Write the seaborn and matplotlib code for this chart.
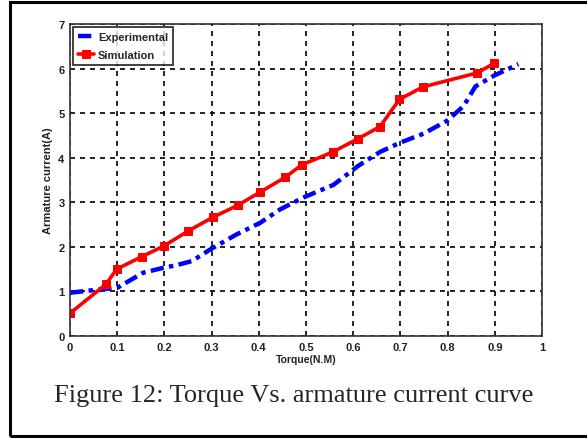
import matplotlib
matplotlib.use("Agg")
import matplotlib.pyplot as plt
import seaborn as sns
import pandas as pd
from matplotlib.patches import Rectangle

# Data
exp_torque = [0.0, 0.05, 0.10, 0.155, 0.198, 0.226, 0.258, 0.30, 0.353, 0.403, 0.445,
              0.495, 0.558, 0.611, 0.657, 0.70, 0.749, 0.799, 0.834, 0.859, 0.898, 0.95]
exp_current = [0.97, 1.03, 1.08, 1.42, 1.53, 1.59, 1.68, 1.96, 2.28, 2.54, 2.84,
               3.11, 3.39, 3.82, 4.13, 4.34, 4.54, 4.83, 5.16, 5.60, 5.84, 6.10]
sim_torque = [0.0, 0.076, 0.099, 0.152, 0.199, 0.251, 0.302, 0.355, 0.403, 0.456,
              0.491, 0.557, 0.611, 0.657, 0.698, 0.748, 0.862, 0.899]
sim_current = [0.51, 1.16, 1.50, 1.78, 2.02, 2.36, 2.66, 2.93, 3.23, 3.56,
               3.84, 4.13, 4.43, 4.70, 5.31, 5.59, 5.90, 6.12]
x_ticks = [0, 0.1, 0.2, 0.3, 0.4, 0.5, 0.6, 0.7, 0.8, 0.9, 1]
y_ticks = [0, 1, 2, 3, 4, 5, 6, 7]

sns.set_style("white")
plt.rcParams['font.family'] = ['Liberation Sans Narrow', 'Liberation Sans', 'DejaVu Sans']

fig = plt.figure(figsize=(5.87, 4.39), dpi=100)
ax = fig.add_axes([70/587, 1-337/439, 472/587, 312/439])

df_exp = pd.DataFrame({"Torque": exp_torque, "Current": exp_current})
df_sim = pd.DataFrame({"Torque": sim_torque, "Current": sim_current})

sns.lineplot(data=df_exp, x="Torque", y="Current", ax=ax, sort=False, color="#0000ff",
             linewidth=3.2, linestyle=(0, (3, 1.2, 1, 1.2)), label="Experimental")
sns.lineplot(data=df_sim, x="Torque", y="Current", ax=ax, sort=False, color="#ff0000",
             linewidth=2.6, marker="s", markersize=6, markeredgecolor="#ff0000",
             label="Simulation")

ax.set_xlim(0, 1)
ax.set_ylim(0, 7)
ax.set_xticks(x_ticks)
ax.set_xticklabels([f"{t:g}" for t in x_ticks])
ax.set_yticks(y_ticks)
ax.set_yticklabels([str(t) for t in y_ticks])
ax.grid(True, color="black", linestyle=(0, (3, 3)), linewidth=1.2)
ax.set_axisbelow(True)
ax.tick_params(axis="both", direction="in", length=0, labelsize=8, pad=4,
               labelcolor="#222222")
for lab in ax.get_xticklabels() + ax.get_yticklabels():
    lab.set_fontweight("bold")
for sp in ax.spines.values():
    sp.set_color("#333333")
    sp.set_linewidth(1.2)

ax.set_xlabel("Torque(N.M)", fontsize=7.5, fontweight="bold", labelpad=2, color="#222222")
ax.set_ylabel("Armature current(A)", fontsize=8, fontweight="bold", labelpad=4, color="#222222")

leg = ax.legend(loc="upper left", fontsize=8, frameon=True, fancybox=False,
                borderaxespad=0.25, handlelength=1.5, borderpad=0.45,
                labelspacing=0.75, handletextpad=0.3)
leg.get_frame().set_edgecolor("black")
leg.get_frame().set_linewidth(1.3)
for t in leg.get_texts():
    t.set_fontweight("bold")

fig.text(294/587, 1-396/439, "Figure 12: Torque Vs. armature current curve",
         ha="center", va="center", fontsize=19, family=["Liberation Serif", "DejaVu Serif"])

fig.patches.append(Rectangle((10/587, 1-437/439), 600/587, 434/439, transform=fig.transFigure,
                             fill=False, edgecolor="black", linewidth=2.2))

fig.savefig("out.png", dpi=100)
